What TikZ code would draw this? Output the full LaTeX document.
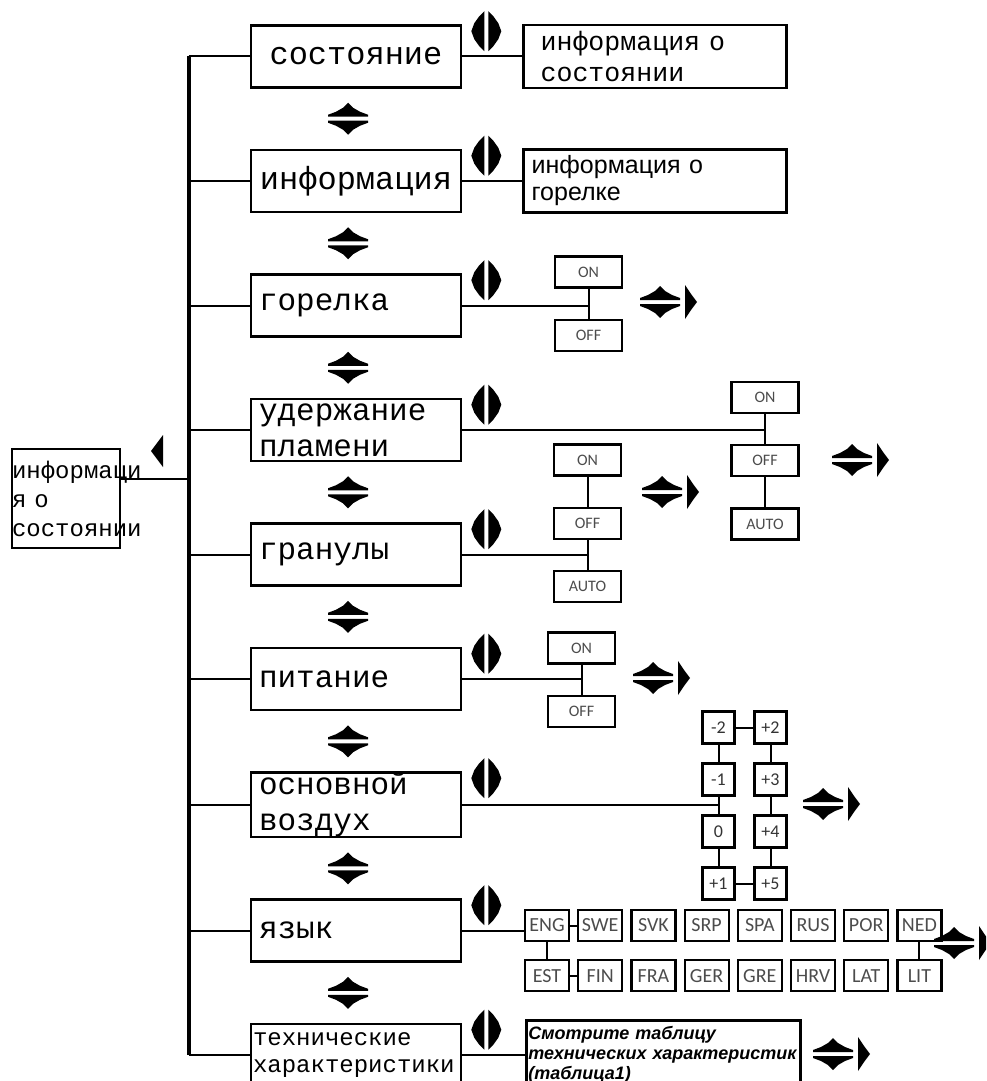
\documentclass[tikz,border=0pt]{standalone}
\usepackage{fontspec}
\newfontfamily\monofont{Liberation Mono}
\newfontfamily\arialfont{Liberation Sans}
\newfontfamily\calfont{Carlito}
\usetikzlibrary{positioning,calc}

\begin{document}
\begin{tikzpicture}
[x=0.5pt, y=-0.5pt,
% STYLES
% The menu style is used for the entries of the main column
menu/.style={rectangle, draw, line width=1.3pt, minimum width=105pt, minimum height=31pt, inner xsep=4pt, inner ysep=0pt, text width=97pt, align=left, font=\monofont\fontsize{15.5}{18}\selectfont},
% The note style is used for the text shown behind an entry
note/.style={rectangle, draw, line width=1.3pt, minimum width=131.5pt, minimum height=31.5pt, inner xsep=8.5pt, inner ysep=0pt, text width=114.5pt, align=left},
% The val style is used for the settings that can be chosen
val/.style={rectangle, draw, line width=1.1pt, minimum width=33.5pt, minimum height=15.5pt, inner sep=0pt, text=black!70, font=\calfont\fontsize{8}{9}\selectfont},
% The num style is used for the steps of the air
num/.style={rectangle, draw, line width=1.5pt, minimum size=16pt, inner sep=0pt, text=black!80, font=\calfont\fontsize{9}{10}\selectfont},
% The langbox style is used for the languages
langbox/.style={rectangle, draw, line width=1.1pt, minimum width=22pt, minimum height=15.5pt, inner sep=0pt, text=black!70, font=\calfont\fontsize{10}{11}\selectfont},
bus/.style={line width=2pt},
link/.style={line width=1pt},
% key symbols
updown/.pic={
  \fill (-20,-2) -- (-20,-4) -- (-12,-7) -- (-5,-11) -- (0,-16) -- (5,-11) -- (12,-7) -- (20,-4) -- (20,-2) -- cycle;
  \fill (-20,2) -- (-20,4) -- (-12,7) -- (-5,11) -- (0,16) -- (5,11) -- (12,7) -- (20,4) -- (20,2) -- cycle;},
leftright/.pic={
  \fill (-2,-20) -- (-7,-15) -- (-12,-8) -- (-15,0) -- (-12,8) -- (-7,15) -- (-2,20) -- cycle;
  \fill (2,-20) -- (7,-15) -- (12,-8) -- (15,0) -- (12,8) -- (7,15) -- (2,20) -- cycle;},
nextkey/.pic={
  \pic {updown};
  \fill (25,-17) -- (25,17) -- (31,8) -- (37,0) -- (31,-8) -- cycle;}]

\useasboundingbox (0,0) rectangle (986,1081);
\clip (0,0) rectangle (986,1081);

% Draw the main column
\node [rectangle, draw, line width=1.3pt, minimum width=54pt, minimum height=49.5pt, inner xsep=0pt, text width=54pt, align=left, font=\monofont\fontsize{12}{14.5}\selectfont] (root) at (66,498.5) {информаци\\я о\\состоянии};
\node [menu, align=center, font=\monofont\fontsize{16}{18}\selectfont] (state) at (356,56.5) {состояние};
\node [menu, align=center, font=\monofont\fontsize{16}{18}\selectfont, below=29.95pt of state] (info) {информация};
\node [menu, below=29.95pt of info] (burner) {горелка};
\node [menu, below=29.95pt of burner] (flame) {удержание\\пламени};
\node [menu, below=29.95pt of flame] (pellets) {гранулы};
\node [menu, below=29.95pt of pellets] (power) {питание};
\node [menu, below=29.95pt of power] (air) {основной\\воздух};
\node [menu, below=29.95pt of air] (lang) {язык};
\node [menu, inner xsep=1pt, text width=103pt, font=\monofont\fontsize{12}{13.5}\selectfont, below=29.95pt of lang] (tech) {технические\\характеристики};

%%%%%%%%%%%%%%%
% What each entry shows

% state
\node [note, font=\monofont\fontsize{13.3}{15.5}\selectfont, right=30pt of state] (note1) {информация о\\состоянии};

% info
\node [note, inner xsep=4pt, text width=123.5pt, font=\arialfont\fontsize{12.5}{13.5}\selectfont, right=30pt of info] (note2) {информация о\\горелке};

% burner
\node [val] (on1) at (588.5,272) {ON};
\node [val, below=15pt of on1] (off1) {OFF};

% flame
\node [val] (on2) at (765,397.5) {ON};
\node [val, below=15pt of on2] (off2) {OFF};
\node [val, below=15pt of off2] (auto2) {AUTO};

% pellets
\node [val] (on3) at (587.5,460) {ON};
\node [val, below=15pt of on3] (off3) {OFF};
\node [val, below=15pt of off3] (auto3) {AUTO};

% power
\node [val] (on4) at (581.5,648) {ON};
\node [val, below=15pt of on4] (off4) {OFF};

% air
\node [num] (m2) at (718.5,727.5) {-2};
\node [num, below=8.5pt of m2] (m1) {-1};
\node [num, below=8.5pt of m1] (zero) {0};
\node [num, below=8.5pt of zero] (p1) {+1};
\node [num, right=8.5pt of m2] (p2) {+2};
\node [num, below=8.5pt of p2] (p3) {+3};
\node [num, below=8.5pt of p3] (p4) {+4};
\node [num, below=8.5pt of p4] (p5) {+5};

% lang
\node [langbox] (eng) at (547,925.5) {ENG};
\node [langbox, right=3.5pt of eng] (swe) {SWE};
\node [langbox, right=3.5pt of swe] (svk) {SVK};
\node [langbox, right=3.5pt of svk] (srp) {SRP};
\node [langbox, right=3.5pt of srp] (spa) {SPA};
\node [langbox, right=3.5pt of spa] (rus) {RUS};
\node [langbox, right=3.5pt of rus] (por) {POR};
\node [langbox, right=3.5pt of por] (ned) {NED};
\node [langbox, below=8.5pt of eng] (est) {EST};
\node [langbox, right=3.5pt of est] (fin) {FIN};
\node [langbox, right=3.5pt of fin] (fra) {FRA};
\node [langbox, right=3.5pt of fra] (ger) {GER};
\node [langbox, right=3.5pt of ger] (gre) {GRE};
\node [langbox, right=3.5pt of gre] (hrv) {HRV};
\node [langbox, right=3.5pt of hrv] (lat) {LAT};
\node [langbox, right=3.5pt of lat] (lit) {LIT};

% tech
\node [rectangle, draw, line width=1.3pt, anchor=north west, inner xsep=1pt, inner ysep=3pt, text width=135pt, align=left, font=\arialfont\bfseries\itshape\fontsize{9}{10}\selectfont] (table) at (525,1019) {Смотрите таблицу\\технических характеристик\\(таблица1)};

%%%%%%%%%%%%%%%

% Draw the links
\coordinate (bus) at (188.5,0);
\coordinate (rootout) at ([yshift=9.75pt]root.east);
\draw[bus] (bus |- state.west) -- (bus |- tech.west);
\draw[link] (rootout) -- (rootout -| bus);
\path[link]
(bus |- state.west) edge (state.west)
(bus |- info.west) edge (info.west)
(bus |- burner.west) edge (burner.west)
(bus |- flame.west) edge (flame.west)
(bus |- pellets.west) edge (pellets.west)
(bus |- power.west) edge (power.west)
(bus |- air.west) edge (air.west)
(bus |- lang.west) edge (lang.west)
(bus |- tech.west) edge (tech.west)
(state) edge (note1)
(info) edge (note2)
(burner.east) edge (burner.east -| on1.south)
(on1) edge (off1)
(flame.east) edge (flame.east -| on2.south)
(on2) edge (off2)
(off2) edge (auto2)
(pellets.east) edge (pellets.east -| on3.south)
(on3) edge (off3)
(off3) edge (auto3)
(power.east) edge (power.east -| on4.south)
(on4) edge (off4)
(air.east) edge (air.east -| m1.south)
(lang.east) edge (lang.east -| eng.west)
(eng) edge (swe)
(eng) edge (est)
(est) edge (fin)
(ned) edge (lit)
(tech.east) edge (tech.east -| table.west);
\draw[link] (m2) -- (m1) -- (zero) -- (p1) -- (p5) -- (p4) -- (p3) -- (p2) -- (m2);

% Draw the keys
\fill (151,451) -- (163,435) -- (163,467) -- cycle;
\pic at ($(state.south)!0.5!(info.north)+(-8,0)$) {updown};
\pic at ($(info.south)!0.5!(burner.north)+(-8,0)$) {updown};
\pic at ($(burner.south)!0.5!(flame.north)+(-8,0)$) {updown};
\pic at ($(flame.south)!0.5!(pellets.north)+(-8,0)$) {updown};
\pic at ($(pellets.south)!0.5!(power.north)+(-8,0)$) {updown};
\pic at ($(power.south)!0.5!(air.north)+(-8,0)$) {updown};
\pic at ($(air.south)!0.5!(lang.north)+(-8,0)$) {updown};
\pic at ($(lang.south)!0.5!(tech.north)+(-8,0)$) {updown};
\pic at ([xshift=12pt,yshift=-3.5pt]state.north east) {leftright};
\pic at ([xshift=12pt,yshift=-3.5pt]info.north east) {leftright};
\pic at ([xshift=12pt,yshift=-3.5pt]burner.north east) {leftright};
\pic at ([xshift=12pt,yshift=-3.5pt]flame.north east) {leftright};
\pic at ([xshift=12pt,yshift=-3.5pt]pellets.north east) {leftright};
\pic at ([xshift=12pt,yshift=-3.5pt]power.north east) {leftright};
\pic at ([xshift=12pt,yshift=-3.5pt]air.north east) {leftright};
\pic at ([xshift=12pt,yshift=-3.5pt]lang.north east) {leftright};
\pic at ([xshift=12pt,yshift=-3.5pt]tech.north east) {leftright};
\pic at (660,302) {nextkey};
\pic at (852,460) {nextkey};
\pic at (662,492) {nextkey};
\pic at (653,678) {nextkey};
\pic at (823,804) {nextkey};
\pic at (954,943) {nextkey};
\pic at (833,1054) {nextkey};

\end{tikzpicture}
\end{document}
